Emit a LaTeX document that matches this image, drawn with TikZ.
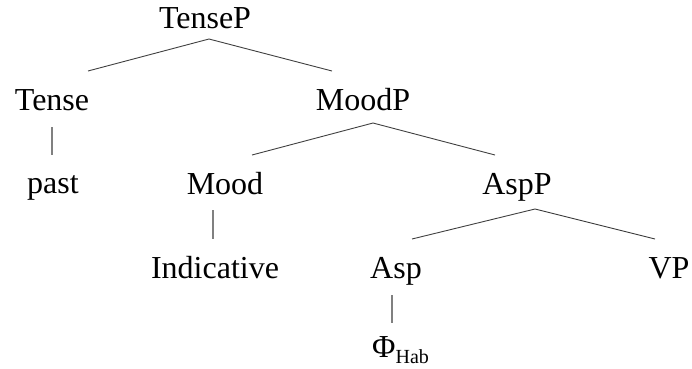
\documentclass[tikz,border=0pt]{standalone}
\usepackage{fontspec}
\setmainfont{Liberation Serif}
\usetikzlibrary{calc}
\begin{document}
\begin{tikzpicture}[x=1pt,y=-1pt,
  label/.style={anchor=base,inner sep=0pt,font=\fontsize{32}{38}\selectfont},
  branch/.style={draw=black!75,line width=0.9pt},
  stem/.style={draw=black!50,line width=1.1pt}]
  \useasboundingbox (0,0) rectangle (692,368);

  % labels, placed on their baselines
  \node[label] (TenseP) at (205,28) {TenseP};
  \node[label] (Tense) at (52,110) {Tense};
  \node[label] (MoodP) at (363,110) {MoodP};
  \node[label] (past) at (53,193) {past};
  \node[label] (Mood) at (225,194) {Mood};
  \node[label] (AspP) at (517,194) {AspP};
  \node[label] (Indicative) at (215,278) {Indicative};
  \node[label] (Asp) at (396,278) {Asp};
  \node[label] (VP) at (669,278) {VP};
  \node[label,anchor=base west] (Phi) at (372,357)
    {Φ{\fontsize{20}{20}\selectfont\raisebox{-6pt}{Hab}}};

  % branching
  \draw[branch] ($(Tense.base)+(36,-39)$) -- ($(TenseP.base)+(4,11)$) -- ($(MoodP.base)+(-31,-39)$);
  \draw[branch] ($(Mood.base)+(27,-39)$) -- ($(MoodP.base)+(10,13)$) -- ($(AspP.base)+(-22,-39)$);
  \draw[branch] ($(Asp.base)+(16,-39)$) -- ($(AspP.base)+(18,15)$) -- ($(VP.base)+(-14,-39)$);

  % non-branching
  \draw[stem] ($(Tense.base)+(0,17)$) -- ($(past.base)+(-1,-38)$);
  \draw[stem] ($(Mood.base)+(-12,16)$) -- ($(Indicative.base)+(-2,-39)$);
  \draw[stem] ($(Asp.base)+(-4,17)$) -- ($(Phi.base west)+(20,-34)$);
\end{tikzpicture}
\end{document}
